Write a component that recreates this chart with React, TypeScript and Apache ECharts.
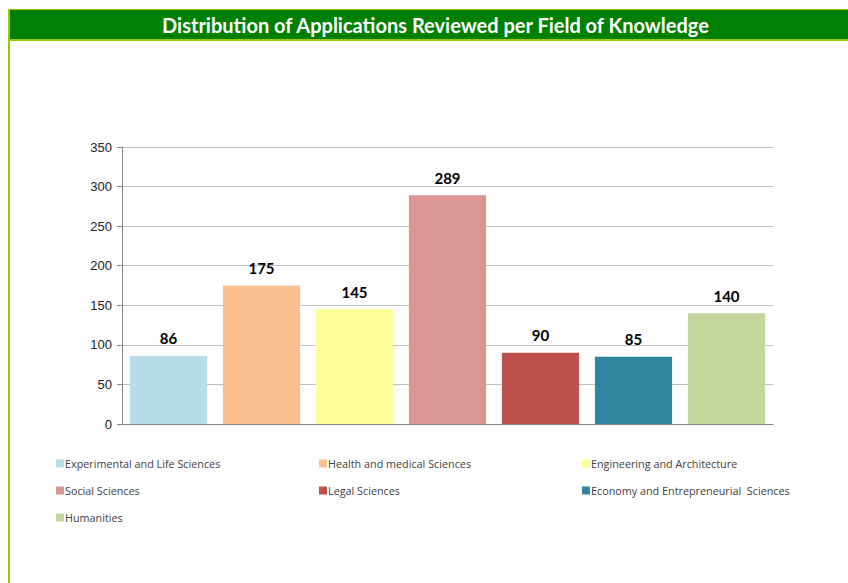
import React, { useEffect, useRef } from "react";
import * as echarts from "echarts";

const titleText = "Distribution of Applications Reviewed per Field of Knowledge";
const fields = [
  "Experimental and Life Sciences",
  "Health and medical Sciences",
  "Engineering and Architecture",
  "Social Sciences",
  "Legal Sciences",
  "Economy and Entrepreneurial  Sciences",
  "Humanities",
];
const values = [86, 175, 145, 289, 90, 85, 140];
const colors = ["#B7DDE8", "#FAC090", "#FFFF99", "#D99694", "#C0504D", "#31859C", "#C3D69B"];
const yTicks = { min: 0, max: 350, interval: 50 };

const legendCols = [56, 319, 582];
const legendRows = [458, 485, 512];

export default function App() {
  const ref = useRef<HTMLDivElement>(null);
  useEffect(() => {
    if (!ref.current) return;
    const chart = echarts.init(ref.current, undefined, { renderer: "svg" });
    const series = fields.map((name, i) => ({
      name,
      type: "bar",
      stack: "all",
      barWidth: "83%",
      itemStyle: { color: colors[i] },
      data: values.map((v, j) => (j === i ? v : null)),
      label: {
        show: true,
        position: "top",
        distance: 10,
        color: "#000",
        fontWeight: "bold",
        fontSize: 15,
        fontFamily: "Lato, 'DejaVu Sans', sans-serif",
      },
    }));
    const legends = fields.map((name, i) => ({
      data: [name],
      left: legendCols[i % 3],
      top: legendRows[Math.floor(i / 3)],
      itemWidth: 8,
      itemHeight: 8,
      icon: "rect",
      padding: 0,
      selectedMode: false,
      textStyle: {
        color: "#404040",
        fontSize: 10.8,
        fontFamily: "'Open Sans', 'DejaVu Sans', sans-serif",
        padding: [0, 0, 0, -4],
      },
    }));
    chart.setOption({
      animation: false,
      backgroundColor: "#fff",
      grid: { left: 122, right: 75, top: 147, bottom: 159 },
      legend: legends,
      xAxis: {
        type: "category",
        data: fields,
        axisLine: { lineStyle: { color: "#868686" } },
        axisTick: { show: false },
        axisLabel: { show: false },
      },
      yAxis: {
        type: "value",
        min: yTicks.min,
        max: yTicks.max,
        interval: yTicks.interval,
        axisLine: { show: true, lineStyle: { color: "#868686" } },
        axisTick: { show: true, length: 5, lineStyle: { color: "#868686" } },
        axisLabel: { color: "#222", fontSize: 13, fontFamily: "'Liberation Sans', Arial, sans-serif", margin: 10 },
        splitLine: { lineStyle: { color: "#C0C0C0" } },
      },
      series,
      graphic: [
        { type: "rect", shape: { x: 8, y: 9, width: 2, height: 574 }, style: { fill: "#99CC00" }, silent: true },
        { type: "rect", shape: { x: 8, y: 9, width: 840, height: 32 }, style: { fill: "#99CC00" }, silent: true },
        { type: "rect", shape: { x: 10, y: 10, width: 838, height: 29 }, style: { fill: "#008000" }, silent: true },
        {
          type: "text",
          x: 435.5,
          y: 25,
          style: {
            text: titleText,
            fill: "#fff",
            fontSize: 20,
            fontWeight: "bold",
            fontFamily: "Lato, 'Open Sans', sans-serif",
            align: "center",
            verticalAlign: "middle",
          },
          silent: true,
        },
      ],
    });
    return () => chart.dispose();
  }, []);
  return <div ref={ref} style={{ position: "absolute", left: 0, top: 0, width: 848, height: 583 }} />;
}
